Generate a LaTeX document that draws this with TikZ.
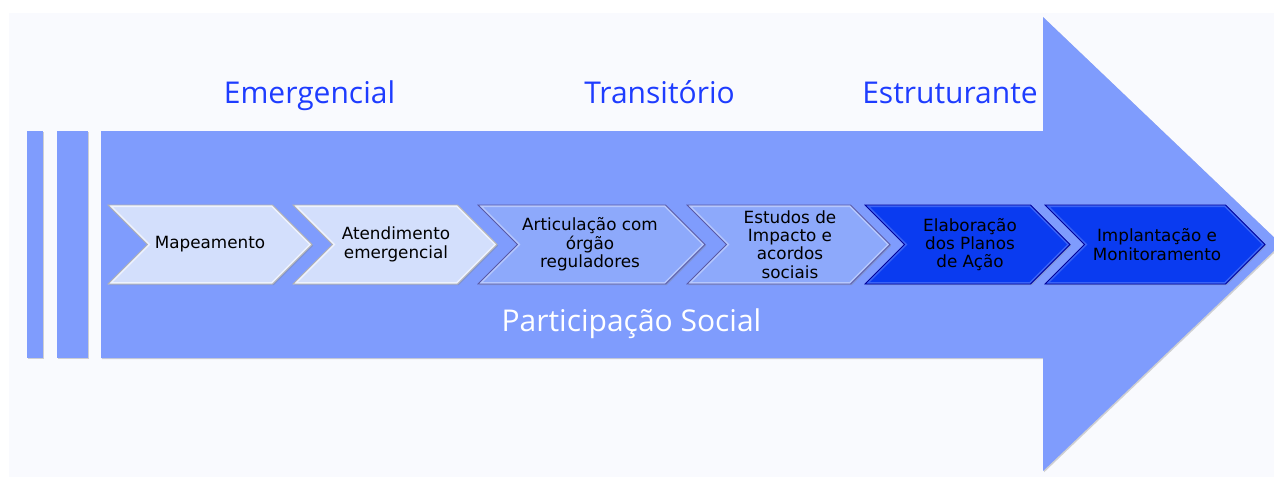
\documentclass[tikz,border=0pt]{standalone}
\usepackage{fontspec}
\newfontfamily\phasefont{Open Sans}
\newfontfamily\stepfont{DejaVu Sans}
\usetikzlibrary{shadows}

\definecolor{panel}{HTML}{F9FAFE}
\definecolor{arrowblue}{HTML}{7F9CFD}
\definecolor{phaseblue}{HTML}{1E3CFF}
\definecolor{lightfill}{HTML}{D3DFFC}
\definecolor{lightrim}{HTML}{EEF3FF}
\definecolor{midfill}{HTML}{8DA9FB}
\definecolor{midrim}{HTML}{B6C8FE}
\definecolor{darkfill}{HTML}{0A3BF0}
\definecolor{darkrim}{HTML}{3A63F6}

\begin{document}
\begin{tikzpicture}[x=0.5pt,y=-0.5pt,
      soft shadow/.style={drop shadow={shadow xshift=0.6pt,shadow yshift=-0.6pt,opacity=0.35}},
      chev path/.style 2 args={insert path={(#1,205) -- ({#2-39.5},205) -- (#2,244.5)
          -- ({#2-39.5},284) -- (#1,284) -- ({#1+39.5},244.5) -- cycle}},
      light step/.style={fill=lightfill,soft shadow},
      mid step/.style={fill=midfill,soft shadow},
      dark step/.style={fill=darkfill,soft shadow},
      rim/.style={draw=#1,line width=2pt},
      edge line/.style={draw=#1,line width=0.4pt},
      phase/.style={text=phaseblue,anchor=base,font=\phasefont\fontsize{15}{18}\selectfont},
      step text/.style={align=center,inner sep=0pt,font=\stepfont\fontsize{8.4}{9.2}\selectfont}]

    \useasboundingbox (0,0) rectangle (1274,477);
    \fill[white] (0,0) rectangle (1274,477);
    \fill[panel] (9,13) rectangle (1274,477);

    % big arrow and the two bars
    \fill[arrowblue,soft shadow] (101,131) -- (1043,131) -- (1043,17) -- (1281,244)
        -- (1043,471) -- (1043,358) -- (101,358) -- cycle;
    \fill[arrowblue,soft shadow] (27,131) rectangle (43,358);
    \fill[arrowblue,soft shadow] (57,131) rectangle (88,358);

    \node[phase] (emerg) at (309.5,103) {Emergencial};
    \node[phase] (trans) at (659.5,103) {Transitório};
    \node[phase] (estrut) at (950,103) {Estruturante};
    \node[phase,text=white] (partic) at (631.5,331) {Participação Social};

    % chevrons
    \fill[light step,chev path={108}{312}];
    \begin{scope}
      \clip[chev path={108}{312}];
      \draw[rim=lightrim,chev path={108}{312}];
    \end{scope}
    \draw[edge line=gray!60,chev path={108}{312}];
    \node[step text] (map) at (210,244.5) {Mapeamento};

    \fill[light step,chev path={293}{497}];
    \begin{scope}
      \clip[chev path={293}{497}];
      \draw[rim=lightrim,chev path={293}{497}];
    \end{scope}
    \draw[edge line=gray!60,chev path={293}{497}];
    \node[step text] (atend) at (396,244.5) {Atendimento\\emergencial};

    \fill[mid step,chev path={478}{705}];
    \begin{scope}
      \clip[chev path={478}{705}];
      \draw[rim=midrim,chev path={478}{705}];
    \end{scope}
    \draw[edge line=gray!70!blue,chev path={478}{705}];
    \node[step text] (artic) at (590,244.5) {Articulação com\\órgão\\reguladores};

    \fill[mid step,chev path={687}{890}];
    \begin{scope}
      \clip[chev path={687}{890}];
      \draw[rim=midrim,chev path={687}{890}];
    \end{scope}
    \draw[edge line=gray!70!blue,chev path={687}{890}];
    \node[step text] (estud) at (790,244.5) {Estudos de\\Impacto e\\acordos\\sociais};

    \fill[dark step,chev path={865}{1070}];
    \begin{scope}
      \clip[chev path={865}{1070}];
      \draw[rim=darkrim,chev path={865}{1070}];
    \end{scope}
    \draw[edge line=blue!60!black,chev path={865}{1070}];
    \node[step text] (elab) at (970,244.5) {Elaboração\\dos Planos\\de Ação};

    \fill[dark step,chev path={1045}{1265}];
    \begin{scope}
      \clip[chev path={1045}{1265}];
      \draw[rim=darkrim,chev path={1045}{1265}];
    \end{scope}
    \draw[edge line=blue!60!black,chev path={1045}{1265}];
    \node[step text] (impl) at (1157,244.5) {Implantação e\\Monitoramento};
\end{tikzpicture}
\end{document}
